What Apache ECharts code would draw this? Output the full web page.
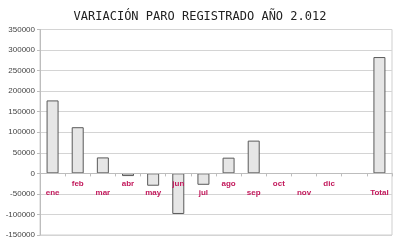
<!DOCTYPE html>
<html><head><meta charset="utf-8">
<script src="https://cdn.jsdelivr.net/npm/echarts@6/dist/echarts.min.js"></script>
<style>html,body{margin:0;padding:0;background:#fff}#c{width:400px;height:246px}</style>
</head><body><div id="c"></div>
<script>
var categories = ['ene','feb','mar','abr','may','jun','jul','ago','sep','oct','nov','dic','','Total'];
var values = [177470, 112269, 38769, -6606, -30113, -98853, -27814, 38179, 79645, null, null, null, null, 282946];
var lowLabels = ['ene','mar','may','jul','sep','nov','Total'];
var titleText = 'VARIACIÓN PARO REGISTRADO AÑO 2.012';

var chart = echarts.init(document.getElementById('c'), null, {renderer:'canvas'});
chart.setOption({
  animation:false,
  title:{text:titleText,left:'center',top:6,textStyle:{fontFamily:'DejaVu Sans Mono',fontSize:12,fontWeight:'normal',color:'#222'}},
  grid:{left:40,right:8,top:29.5,bottom:11,show:true,borderColor:'#cfcfcf',borderWidth:1,outerBoundsMode:'none',containLabel:false},
  xAxis:{type:'category',data:categories,boundaryGap:true,position:'bottom',offset:-61.6,z:5,
    axisLine:{onZero:false,lineStyle:{color:'#bdbdbd'}},
    axisTick:{show:true,interval:0,length:3,lineStyle:{color:'#bdbdbd'}},
    axisLabel:{interval:0,margin:6,color:'#c2185b',fontSize:8,fontWeight:'bold',fontFamily:'Liberation Sans',lineHeight:9,
      formatter:function(v){return lowLabels.indexOf(v)>=0 ? '\n'+v : v;}},
    splitLine:{show:false}},
  yAxis:{type:'value',min:-150000,max:350000,interval:50000,
    axisLine:{show:true,lineStyle:{color:'#bdbdbd'}},
    axisTick:{show:true,length:3,lineStyle:{color:'#bdbdbd'}},
    axisLabel:{color:'#444',fontSize:8,fontFamily:'Liberation Sans',margin:5,formatter:function(v){return String(v);}},
    splitLine:{lineStyle:{color:'#d4d4d4'}}},
  series:[{type:'bar',data:values,barWidth:12,z:2,
    itemStyle:{color:'#e6e6e6',borderColor:'#5a5a5a',borderWidth:1}}]
});
</script></body></html>
